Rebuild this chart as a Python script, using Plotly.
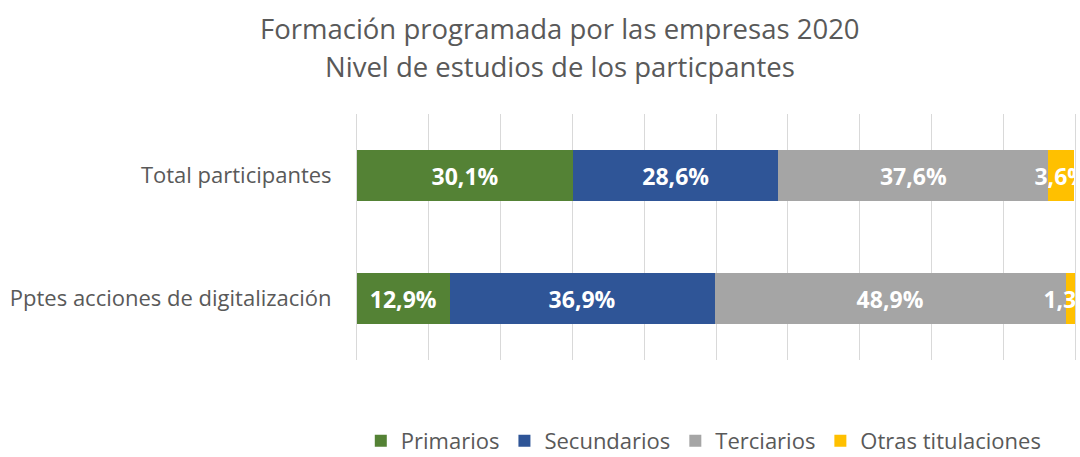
import plotly.graph_objects as go

# categories (bottom to top as plotly draws them)
categorias = ["Pptes acciones de digitalización", "Total participantes"]

# series values (%), same order as categorias
primarios = [12.9, 30.1]
secundarios = [36.9, 28.6]
terciarios = [48.9, 37.6]
otras = [1.3, 3.6]

titulo = ["Formación programada por las empresas 2020",
          "Nivel de estudios de los particpantes"]

series = [
    ("Primarios", primarios, "#548235"),
    ("Secundarios", secundarios, "#2F5597"),
    ("Terciarios", terciarios, "#A5A5A5"),
    ("Otras titulaciones", otras, "#FFC000"),
]

FONT = "Open Sans"
GRAY = "#595959"
GRID = "#D9D9D9"

fig = go.Figure()

for name, vals, color in series:
    fig.add_trace(go.Bar(
        y=categorias,
        x=vals,
        name=name,
        orientation="h",
        marker=dict(color=color, line=dict(width=0)),
        text=[f"{v:.1f}%".replace(".", ",") for v in vals],
        textposition="inside",
        insidetextanchor="middle",
        textangle=0,
        constraintext="none",
        cliponaxis=True,
        textfont=dict(family=FONT, size=23, color="white", weight="bold"),
        hoverinfo="skip",
    ))

# two-line title as annotations (plot area spans y 114..360 px)
plot_h = 457 - 114 - 97
for txt, ypix in zip(titulo, [28, 67]):
    fig.add_annotation(
        text=txt, showarrow=False,
        xref="paper", yref="paper",
        x=(560 - 357) / (1075 - 357), xanchor="center",
        y=(360 - ypix) / plot_h, yanchor="middle",
        font=dict(family=FONT, size=27.5, color=GRAY),
    )

fig.update_layout(
    barmode="stack",
    bargap=0.59,
    width=1080, height=457,
    margin=dict(l=357, r=5, t=114, b=97, autoexpand=False),
    paper_bgcolor="white",
    plot_bgcolor="white",
    font=dict(family=FONT, color=GRAY),
    legend=dict(
        orientation="h",
        x=0.483, xanchor="center",
        y=(360 - 441) / plot_h, yanchor="middle",
        font=dict(family=FONT, size=22, color=GRAY),
        itemwidth=30,
        traceorder="normal",
    ),
    showlegend=True,
)

fig.update_xaxes(
    range=[0, 100],
    dtick=10,
    showgrid=True,
    gridcolor=GRID,
    gridwidth=1,
    showticklabels=False,
    zeroline=False,
    showline=False,
    fixedrange=True,
    automargin=False,
)
fig.update_yaxes(
    showgrid=False,
    showline=True,
    linecolor=GRID,
    linewidth=1,
    mirror=True,
    ticks="",
    ticklabelstandoff=20,
    tickfont=dict(family=FONT, size=22, color=GRAY),
    fixedrange=True,
    automargin=False,
)

# drop the browser's default body margin so the figure sits at 0,0
fig.write_html("out.html", config={"displayModeBar": False},
               post_script="document.body.style.margin='0';")
